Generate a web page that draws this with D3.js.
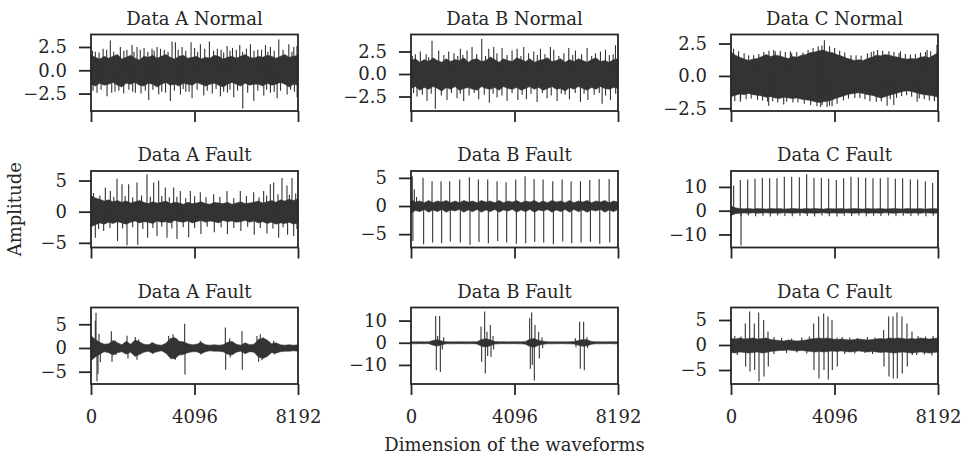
<!DOCTYPE html>
<html>
<head>
<meta charset="utf-8">
<script src="https://cdn.jsdelivr.net/npm/d3@7"></script>
<style>
  body { margin: 0; background: #fff; }
  text { font-family: "DejaVu Serif", serif; fill: #262626; }
</style>
</head>
<body>
<script>
// figure size
var width = 963;
var height = 457;
// panel layout
var colLeft = [91, 411, 731];
var rowTop = [34.5, 171, 307.5];
var panelW = 207;
var panelH = 76.5;
var nSamples = 8192;

// titles, y limits and y ticks per panel (row by row)
var titles = ["Data A Normal", "Data B Normal", "Data C Normal",
              "Data A Fault", "Data B Fault", "Data C Fault",
              "Data A Fault", "Data B Fault", "Data C Fault"];
var yDomains = [[-4.37, 3.84], [-4.11, 4.39], [-2.71, 3.2],
                [-5.75, 6.53], [-7.37, 6.22], [-15.5, 16.7],
                [-7.59, 8.53], [-18.6, 15.9], [-7.8, 7.5]];
var yTicks = [[-2.5, 0, 2.5], [-2.5, 0, 2.5], [-2.5, 0, 2.5],
              [-5, 0, 5], [-5, 0, 5], [-10, 0, 10],
              [-5, 0, 5], [-10, 0, 10], [-5, 0, 5]];
var xTicks = [0, 4096, 8192];

// envelope of each waveform (48 points over 8192 samples): upper and lower edge of the dense band
var aNormHi = [1.6,1.4,1.2,1.5,1.3,1.5,1.7,1.2,1.4,1.6,1.3,1.1,1.5,1.4,1.6,1.3,1.5,1.7,1.4,1.2,1.5,1.6,1.3,1.4,1.5,1.2,1.4,1.3,1.6,1.5,1.2,1.4,1.5,1.3,1.5,1.7,1.4,1.3,1.5,1.4,1.6,1.5,1.3,1.5,1.7,1.4,1.5,1.6];
var aNormLo = [-1.5,-1.7,-1.4,-1.6,-1.5,-1.3,-1.6,-1.8,-1.4,-1.5,-1.3,-1.6,-1.7,-1.4,-1.5,-1.8,-1.5,-1.3,-1.6,-1.5,-1.7,-1.4,-1.5,-1.6,-1.3,-1.5,-1.7,-1.5,-1.4,-1.6,-1.8,-1.5,-1.3,-1.5,-1.7,-1.4,-1.6,-1.5,-1.5,-1.7,-1.4,-1.6,-1.5,-1.3,-1.5,-1.8,-1.5,-1.6];
var bNormHi = [1.5,1.7,1.3,1.6,1.4,1.8,1.5,1.3,1.7,1.4,1.6,1.5,1.8,1.3,1.6,1.7,1.4,1.5,1.9,1.6,1.3,1.7,1.5,1.4,1.8,1.6,1.4,1.7,1.3,1.5,1.6,1.8,1.4,1.5,1.7,1.3,1.6,1.4,1.7,1.5,1.3,1.6,1.8,1.4,1.5,1.3,1.6,1.7];
var bNormLo = [-1.6,-1.4,-1.8,-1.5,-1.7,-1.4,-1.6,-1.9,-1.5,-1.7,-1.4,-1.8,-1.6,-1.5,-1.7,-1.8,-1.4,-1.6,-1.7,-1.5,-1.8,-1.4,-1.6,-1.7,-1.5,-1.8,-1.6,-1.4,-1.7,-1.5,-1.8,-1.6,-1.4,-1.7,-1.6,-1.9,-1.5,-1.7,-1.4,-1.6,-1.8,-1.5,-1.7,-1.4,-1.6,-1.7,-1.5,-1.6];
var cNormHi = [1.85,1.6,1.45,1.3,1.2,1.3,1.35,1.5,1.65,1.5,1.6,1.55,1.45,1.35,1.5,1.45,1.6,1.65,1.8,1.85,1.95,2.0,1.85,1.8,1.65,1.55,1.4,1.3,1.2,1.25,1.2,1.35,1.45,1.6,1.55,1.65,1.6,1.5,1.45,1.35,1.3,1.35,1.3,1.45,1.5,1.4,1.6,1.8];
var cNormLo = [-1.6,-1.5,-1.4,-1.45,-1.35,-1.45,-1.5,-1.55,-1.65,-1.6,-1.7,-1.75,-1.65,-1.7,-1.75,-1.7,-1.8,-1.85,-1.9,-2.0,-2.05,-2.0,-1.95,-1.85,-1.7,-1.6,-1.5,-1.4,-1.35,-1.3,-1.35,-1.45,-1.5,-1.6,-1.7,-1.6,-1.5,-1.4,-1.3,-1.2,-1.15,-1.2,-1.3,-1.4,-1.45,-1.5,-1.55,-1.65];
var aFault1Hi = [2.6,2.2,2.0,1.7,1.9,1.6,1.8,1.5,1.7,1.4,1.6,1.8,1.5,1.3,1.6,1.4,1.5,1.7,1.3,1.5,1.4,1.2,1.5,1.3,1.4,1.6,1.3,1.2,1.5,1.4,1.3,1.5,1.2,1.4,1.6,1.3,1.4,1.5,1.7,1.4,1.6,1.8,1.5,1.9,1.7,2.0,1.8,2.1];
var aFault1Lo = [-2.4,-2.1,-1.8,-2.0,-1.7,-1.9,-1.6,-1.8,-2.0,-1.7,-1.5,-1.8,-1.6,-1.7,-1.9,-1.5,-1.7,-1.6,-1.8,-1.4,-1.6,-1.7,-1.5,-1.8,-1.6,-1.4,-1.7,-1.5,-1.6,-1.8,-1.4,-1.6,-1.5,-1.7,-1.6,-1.4,-1.7,-1.5,-1.8,-1.6,-1.9,-1.7,-2.0,-1.8,-1.9,-1.7,-2.0,-1.8];
var bFault1Hi = [1.2,0.7,0.9,0.6,1.0,0.6,0.9,0.7,1.0,0.6,0.9,0.6,1.0,0.7,0.9,0.6,1.0,0.7,0.9,0.6,1.0,0.6,0.9,0.7,1.0,0.6,0.9,0.7,1.0,0.6,0.9,0.6,1.0,0.7,0.9,0.6,1.0,0.6,0.9,0.7,1.0,0.6,0.9,0.7,1.0,0.6,0.9,0.7];
var bFault1Lo = [-1.3,-0.8,-1.0,-0.6,-1.1,-0.7,-1.0,-0.6,-1.1,-0.7,-0.9,-0.6,-1.1,-0.7,-1.0,-0.6,-1.1,-0.7,-1.0,-0.6,-1.1,-0.7,-0.9,-0.6,-1.1,-0.7,-1.0,-0.6,-1.1,-0.7,-0.9,-0.6,-1.1,-0.7,-1.0,-0.6,-1.1,-0.6,-1.0,-0.7,-1.1,-0.7,-0.9,-0.6,-1.1,-0.7,-1.0,-0.6];
var cFault1Hi = [2.0,1.2,0.9,0.8,0.9,0.7,0.9,0.8,0.7,0.9,0.8,0.9,0.7,0.8,0.9,0.8,0.7,0.9,0.8,0.9,0.8,0.7,0.9,0.8,0.8,0.9,0.7,0.8,0.9,0.8,0.7,0.9,0.8,0.8,0.9,0.7,0.8,0.9,0.8,0.7,0.9,0.8,0.8,0.9,0.7,0.8,0.9,0.8];
var cFault1Lo = [-2.0,-1.3,-1.1,-1.0,-1.1,-0.9,-1.1,-1.0,-0.9,-1.1,-1.0,-1.1,-0.9,-1.0,-1.1,-1.0,-0.9,-1.1,-1.0,-1.1,-1.0,-0.9,-1.1,-1.0,-1.0,-1.1,-0.9,-1.0,-1.1,-1.0,-0.9,-1.1,-1.0,-1.0,-1.1,-0.9,-1.0,-1.1,-1.0,-0.9,-1.1,-1.0,-1.0,-1.1,-0.9,-1.0,-1.1,-1.0];
var aFault2Hi = [2.6,1.8,1.2,0.8,0.9,1.6,1.1,0.7,1.4,0.8,1.7,1.3,0.8,0.7,1.1,0.7,0.6,1.0,2.0,2.2,1.4,1.3,0.9,0.7,0.8,1.2,0.7,0.6,0.7,0.6,0.7,1.2,1.4,0.8,0.6,1.1,0.7,0.8,1.8,2.1,1.7,0.9,1.1,0.7,0.6,0.7,0.6,0.7];
var aFault2Lo = [-2.7,-1.9,-1.3,-0.8,-1.0,-1.5,-1.0,-0.8,-1.3,-0.9,-1.8,-1.4,-0.9,-0.7,-1.1,-0.8,-0.6,-1.1,-2.1,-2.3,-1.5,-1.4,-1.0,-0.8,-0.8,-1.2,-0.8,-0.6,-0.7,-0.7,-0.8,-1.3,-1.5,-0.9,-0.7,-1.2,-0.8,-0.9,-1.9,-2.2,-1.8,-1.0,-1.1,-0.8,-0.7,-0.7,-0.6,-0.7];
var bFault2Hi = [0.5,0.4,0.5,0.4,0.5,1.0,1.4,0.8,0.5,0.4,0.4,0.5,0.4,0.4,0.5,0.5,1.5,1.8,1.3,0.6,0.5,0.5,0.4,0.5,0.5,0.4,0.6,1.6,1.9,1.0,0.7,0.5,0.4,0.4,0.5,0.4,0.5,0.6,1.0,1.5,1.3,0.6,0.5,0.5,0.4,0.5,0.5,0.4];
var bFault2Lo = [-0.5,-0.5,-0.4,-0.5,-0.4,-1.1,-1.5,-0.9,-0.5,-0.5,-0.5,-0.4,-0.5,-0.5,-0.4,-0.6,-1.6,-1.9,-1.4,-0.6,-0.5,-0.4,-0.5,-0.4,-0.5,-0.5,-0.7,-1.7,-2.0,-1.1,-0.7,-0.5,-0.5,-0.5,-0.4,-0.5,-0.5,-0.6,-1.1,-1.6,-1.4,-0.7,-0.5,-0.5,-0.5,-0.4,-0.5,-0.5];
var cFault2Hi = [1.3,1.2,1.4,1.2,1.3,1.4,1.2,1.3,1.4,1.1,1.0,0.9,0.8,1.0,0.9,0.8,0.9,1.0,1.2,1.3,1.4,1.3,1.4,1.2,1.1,1.2,1.1,1.0,1.1,1.2,1.1,1.0,1.1,1.2,1.3,1.2,1.4,1.3,1.4,1.3,1.2,1.3,1.2,1.4,1.3,1.2,1.3,1.4];
var cFault2Lo = [-1.5,-1.6,-1.4,-1.5,-1.6,-1.5,-1.4,-1.6,-1.5,-1.3,-1.2,-1.1,-1.1,-1.0,-1.1,-1.2,-1.1,-1.2,-1.3,-1.4,-1.3,-1.4,-1.3,-1.2,-1.3,-1.2,-1.3,-1.4,-1.3,-1.2,-1.3,-1.4,-1.3,-1.4,-1.5,-1.4,-1.5,-1.6,-1.5,-1.4,-1.5,-1.6,-1.5,-1.4,-1.5,-1.6,-1.5,-1.4];

// spikes sticking out of the band: [sample, amplitude]
var aNormSpikes = [[172,2.0],[480,2.3],[766,3.2],[1162,2.5],[1420,2.2],[1624,2.7],[1822,2.5],[2100,2.4],[2416,2.3],[2614,2.5],[2900,2.2],[3208,3.1],[3340,3.0],[3604,2.5],[3960,3.0],[4100,2.4],[4330,2.8],[4686,3.1],[5000,2.3],[5386,2.6],[5600,2.4],[5887,2.7],[6310,2.8],[6600,2.2],[6904,2.7],[7100,2.5],[7432,3.3],[7828,2.8],[8026,2.5],[8150,2.6],
  [60,2.1],[320,1.9],[620,2.2],[900,2.0],[1300,2.1],[1700,2.0],[1950,2.2],[2250,2.0],[2500,2.1],[2750,2.3],[3050,2.0],[3450,2.2],[3750,2.1],[4220,2.0],[4500,2.3],[4850,2.1],[5150,2.2],[5250,1.9],[5500,2.1],[5750,2.2],[6000,2.0],[6150,2.3],[6450,2.1],[6750,2.2],[7000,2.0],[7250,2.1],[7600,2.2],[7950,2.0],
  [238,-2.4],[634,-2.8],[950,-2.3],[1294,-2.5],[1756,-2.4],[1980,-2.5],[2284,-3.2],[2680,-2.6],[2950,-2.4],[3142,-3.3],[3538,-2.6],[3750,-2.3],[4000,-3.0],[4462,-2.7],[4800,-2.5],[5122,-2.8],[5400,-2.4],[5650,-2.9],[6006,-4.1],[6442,-3.3],[6838,-2.7],[7100,-2.4],[7366,-3.0],[7762,-2.6],[8158,-2.9],
  [80,-2.2],[400,-2.1],[820,-2.4],[1100,-2.2],[1500,-2.1],[1650,-2.3],[2150,-2.2],[2450,-2.1],[2800,-2.3],[3300,-2.2],[3650,-2.0],[3880,-2.3],[4200,-2.1],[4600,-2.2],[4950,-2.0],[5250,-2.3],[5500,-2.1],[5800,-2.2],[6200,-2.4],[6600,-2.2],[6950,-2.1],[7250,-2.3],[7500,-2.2],[7900,-2.1],[8050,-2.3]];
var bNormSpikes = [[172,2.2],[370,2.5],[832,3.7],[1096,2.6],[1492,2.5],[1954,2.8],[2218,2.6],[2416,3.0],[2800,3.9],[3076,2.8],[3274,3.0],[3604,2.9],[4000,2.6],[4198,2.8],[4462,3.0],[4858,2.5],[5122,2.8],[5518,3.0],[5650,2.7],[6244,2.9],[6508,2.6],[6970,2.9],[7498,2.5],[7696,2.7],[8092,3.2],
  [50,2.0],[600,2.2],[700,1.9],[1300,2.1],[1700,2.3],[1850,2.0],[2050,2.1],[2600,2.2],[2950,2.0],[3400,2.3],[3800,2.1],[4350,2.0],[4650,2.3],[5000,2.1],[5300,2.2],[5850,2.0],[6050,2.3],[6400,2.1],[6750,2.2],[7150,2.0],[7300,2.3],[7850,2.1],[8000,2.2],
  [238,-2.5],[634,-3.0],[964,-3.85],[1426,-2.9],[1822,-2.7],[2086,-3.0],[2680,-2.8],[3100,-3.2],[3406,-2.6],[3802,-3.0],[4230,-2.9],[4567,-2.8],[4990,-3.1],[5386,-2.7],[5782,-3.0],[6270,-2.8],[6706,-3.1],[7000,-2.9],[7564,-3.3],[7894,-2.9],
  [100,-2.1],[450,-2.3],[800,-2.2],[1200,-2.4],[1600,-2.1],[1950,-2.2],[2300,-2.4],[2500,-2.1],[2900,-2.3],[3250,-2.2],[3600,-2.4],[4000,-2.1],[4400,-2.3],[4750,-2.2],[5200,-2.1],[5550,-2.4],[5950,-2.2],[6100,-2.3],[6500,-2.1],[6850,-2.2],[7250,-2.3],[7450,-2.1],[7700,-2.4],[8100,-2.2]];
var cNormSpikes = [[1690,2.0],[2350,1.9],[3696,2.75],[5650,1.9],[6706,1.9],[7762,2.0],[8150,2.4],
  [100,2.1],[300,1.9],[520,1.75],[700,1.6],[900,1.6],[1100,1.7],[1300,1.85],[1500,1.95],[1750,1.9],[1950,1.95],[2150,1.85],[2400,1.75],[2600,1.85],[2850,1.8],[3050,2.0],[3250,2.15],[3450,2.3],[3600,2.35],[3900,2.3],[4100,2.15],[4300,1.95],[4500,1.8],[4750,1.6],[4950,1.6],[5150,1.55],[5400,1.75],[5550,1.85],[5800,2.0],[6000,1.95],[6250,1.9],[6450,1.85],[6650,1.75],[6900,1.7],[7100,1.65],[7300,1.7],[7500,1.8],[7700,1.85],[7900,1.9],
  [370,-2.0],[1492,-2.3],[2086,-2.2],[3604,-2.25],[3802,-2.4],[4000,-2.35],[6178,-2.3],[6442,-2.25],[7366,-2.0],
  [150,-1.95],[380,-1.8],[600,-1.8],[800,-1.75],[1050,-1.85],[1250,-1.9],[1450,-2.0],[1650,-1.95],[1850,-2.05],[2200,-2.0],[2450,-2.05],[2650,-2.05],[2900,-2.15],[3150,-2.25],[3400,-2.35],[3550,-2.4],[3900,-2.3],[4200,-2.15],[4450,-1.9],[4650,-1.75],[4900,-1.7],[5100,-1.7],[5300,-1.8],[5500,-1.95],[5750,-2.0],[5950,-1.95],[6300,-1.8],[6550,-1.7],[6750,-1.55],[6950,-1.5],[7150,-1.6],[7450,-1.75],[7650,-1.8],[7850,-1.9],[8050,-1.95]];
var aFault1Spikes = [[567,3.9],[765,3.3],[1029,5.3],[1227,4.4],[1490,4.4],[1820,4.7],[2216,6.0],[2480,4.7],[2678,5.0],[2941,3.9],[3271,3.9],[3535,3.3],[3931,3.3],[4326,3.1],[4854,2.8],[5382,3.3],[5909,3.3],[6437,3.1],[6833,3.3],[7096,4.4],[7228,4.7],[7558,5.4],[7756,4.2],[7954,5.4],
  [100,3.0],[350,2.6],[900,2.4],[1350,2.5],[1650,2.3],[2000,2.6],[2350,2.4],[2800,2.5],[3100,2.3],[3400,2.4],[3750,2.2],[4100,2.5],[4550,2.3],[5100,2.4],[5650,2.2],[6150,2.5],[6650,2.3],[6950,2.6],[7400,2.8],[7850,2.7],[8100,2.9],
  [171,-4.2],[501,-3.1],[1050,-4.7],[1425,-5.4],[1850,-5.3],[2240,-4.2],[2612,-3.9],[3007,-4.2],[3403,-4.4],[3865,-4.1],[4350,-3.6],[4880,-3.3],[5400,-3.6],[5930,-3.1],[6460,-3.7],[6964,-3.5],[7426,-4.2],[7780,-3.7],[8020,-3.9],
  [300,-2.8],[750,-2.6],[1250,-2.7],[1650,-2.5],[2050,-2.8],[2450,-2.6],[2800,-2.4],[3200,-2.7],[3650,-2.5],[4100,-2.6],[4600,-2.4],[5150,-2.5],[5650,-2.6],[6200,-2.4],[6700,-2.6],[7200,-2.7],[7600,-2.5],[8150,-2.8]];
// periodic impulses of Data B Fault (row 2)
var bFault1Pos = [50,475,832,1188,1531,1927,2310,2666,3036,3406,3762,4145,4514,4871,5227,5610,5980,6336,6706,7075,7445,7841];
var bFault1Up = [5.3,5.0,4.4,4.4,4.4,4.7,5.1,4.7,4.7,4.4,4.2,4.7,5.3,4.8,4.7,4.4,4.7,4.4,4.4,4.6,4.8,4.8];
var bFault1Down = [-6.2,-6.8,-6.5,-6.6,-6.3,-6.5,-6.9,-6.4,-6.6,-6.2,-6.5,-6.7,-6.6,-6.4,-6.5,-6.8,-6.3,-6.6,-6.5,-6.4,-6.7,-6.5];
var bFault1Extra = [[130,3.0],[220,1.6]];
// periodic impulses of Data C Fault (row 2)
var cFault1Pos = [369,660,950,1240,1530,1820,2110,2401,2704,2994,3284,3574,3865,4168,4458,4748,5039,5329,5619,5909,6212,6503,6793,7096,7386,7690,7980];
var cFault1Up = [12.9,13.1,13.4,13.9,13.7,13.7,14.3,14.3,14.1,15.3,13.9,13.9,13.4,12.9,13.7,14.3,14.1,13.9,13.7,13.7,14.0,13.4,13.7,13.1,13.1,12.4,11.7];
var cFault1Down = [-2.2,-2.0,-2.3,-2.1,-2.4,-2.0,-2.2,-2.3,-2.1,-2.2,-2.4,-2.0,-2.3,-2.5,-2.1,-2.2,-2.0,-2.3,-2.1,-2.2,-2.0,-2.3,-2.1,-2.2,-2.0,-2.3,-2.1];
var cFault1Extra = [[105,10.5],[396,-14.7]];
var aFault2Spikes = [[171,5.8],[198,7.4],[237,-7.0],[277,-5.5],[316,3.0],[369,-3.0],[805,3.5],[831,-2.9],[963,1.6],[990,-1.5],[1425,2.6],[1464,-2.2],[1754,2.3],[1820,-2.5],[1886,1.8],[2414,1.2],[2440,-1.2],
  [3073,2.5],[3166,-2.4],[3245,2.9],[3337,-2.5],[3403,2.0],[3706,5.1],[3720,-5.6],[4326,1.5],[4350,-1.4],[5316,4.3],[5329,-4.6],[5487,2.0],[5510,-2.0],[5975,3.6],[5988,-4.6],
  [6568,2.5],[6634,-2.9],[6700,2.9],[6766,-2.6],[6832,2.2],[7228,1.5],[7254,-1.4]];
var bFault2Spikes = [[976,12.1],[1002,-12.4],[1055,3.0],[1134,12.1],[1161,-13.2],[1240,-3.0],[1293,2.5],
  [2770,7.3],[2796,-8.6],[2915,14.1],[2941,-13.9],[3007,5.0],[3034,-6.0],[3139,8.0],[3166,-6.4],[3245,3.0],[3270,-3.0],
  [4696,11.1],[4722,-11.7],[4775,13.6],[4801,-10.0],[4880,-17.0],[4907,8.0],[5052,5.0],[5078,-7.1],[5184,2.5],[5210,-2.5],
  [6503,2.0],[6529,-2.0],[6674,9.5],[6700,-11.7],[6832,9.5],[6859,-12.4],[6964,2.5],[6990,-2.5]];
var cFault2Spikes = [[567,4.3],[580,-4.3],[739,6.7],[752,-5.3],[923,4.3],[936,-5.0],[1095,6.5],[1108,-7.3],[1293,5.0],[1306,-6.3],[1464,2.7],[1477,-4.3],
  [3271,4.3],[3284,-5.0],[3469,5.7],[3482,-6.7],[3667,6.3],[3680,-5.0],[3838,5.7],[3851,-6.9],[3997,5.0],[4010,-5.0],[4194,1.5],[4207,-4.3],
  [6041,3.0],[6054,-4.3],[6239,5.7],[6252,-6.3],[6410,5.7],[6423,-6.7],[6569,6.5],[6582,-6.7],[6766,5.7],[6779,-5.7],[6964,4.3],[6977,-4.3],[7162,2.7],[7175,-2.0],
  [150,1.8],[400,1.7],[1700,1.6],[2000,1.4],[2400,1.3],[2800,1.5],[3100,1.7],[4400,1.6],[4700,1.5],[5000,1.4],[5400,1.6],[5700,1.5],[7400,1.8],[7700,1.7],[8000,1.8],
  [250,-2.0],[1700,-1.8],[2200,-1.6],[2600,-1.5],[3000,-1.7],[4500,-1.8],[4900,-1.7],[5300,-1.6],[5600,-1.8],[7350,-2.0],[7650,-1.9],[7950,-2.1]];

// build impulse tables into spike lists
function impulses(pos, up, down, extra) {
  var out = extra.slice();
  pos.forEach(function(p, i) {
    out.push([p, up[i]]);
    out.push([p + 25, down[i]]);
  });
  return out;
}

var panels = [
  {hi: aNormHi, lo: aNormLo, spikes: aNormSpikes},
  {hi: bNormHi, lo: bNormLo, spikes: bNormSpikes},
  {hi: cNormHi, lo: cNormLo, spikes: cNormSpikes},
  {hi: aFault1Hi, lo: aFault1Lo, spikes: aFault1Spikes},
  {hi: bFault1Hi, lo: bFault1Lo, spikes: impulses(bFault1Pos, bFault1Up, bFault1Down, bFault1Extra)},
  {hi: cFault1Hi, lo: cFault1Lo, spikes: impulses(cFault1Pos, cFault1Up, cFault1Down, cFault1Extra)},
  {hi: aFault2Hi, lo: aFault2Lo, spikes: aFault2Spikes},
  {hi: bFault2Hi, lo: bFault2Lo, spikes: bFault2Spikes},
  {hi: cFault2Hi, lo: cFault2Lo, spikes: cFault2Spikes}
];

var svg = d3.select("body")
            .append("svg")
            .attr("width", width)
            .attr("height", height);

var waveColor = "#333333";
var axisColor = "#262626";
var fontSize = 18;

panels.forEach(function(p, k) {
  var row = Math.floor(k / 3);
  var col = k % 3;
  var x0 = colLeft[col];
  var y0 = rowTop[row];

  var x = d3.scaleLinear().domain([0, nSamples]).range([x0, x0 + panelW]);
  var y = d3.scaleLinear().domain(yDomains[k]).range([y0 + panelH, y0]);

  var g = svg.append("g").attr("class", "panel");

  // dense band
  var n = p.hi.length;
  var band = d3.area()
               .x(function(d, i) { return x(i * nSamples / (n - 1)); })
               .y0(function(d, i) { return y(p.lo[i]); })
               .y1(function(d) { return y(d); });
  g.append("path")
   .datum(p.hi)
   .attr("d", band)
   .attr("fill", waveColor)
   .attr("stroke", waveColor)
   .attr("stroke-width", 0.5);

  // spikes
  g.selectAll("line.spike")
   .data(p.spikes)
   .enter().append("line")
   .attr("class", "spike")
   .attr("x1", function(d) { return x(d[0]); })
   .attr("x2", function(d) { return x(d[0]); })
   .attr("y1", y(0))
   .attr("y2", function(d) { return y(d[1]); })
   .attr("stroke", waveColor)
   .attr("stroke-width", 1.1);

  // y axis
  var fmt = row === 0 ? d3.format(".1f") : d3.format("d");
  var yAxis = g.append("g")
               .attr("transform", "translate(" + x0 + ",0)")
               .call(d3.axisLeft(y).tickValues(yTicks[k]).tickSize(12).tickPadding(12).tickFormat(fmt));
  // x axis
  var xAxis = g.append("g")
               .attr("transform", "translate(0," + (y0 + panelH) + ")")
               .call(d3.axisBottom(x).tickValues(xTicks).tickSize(11).tickPadding(15)
                       .tickFormat(row === 2 ? d3.format("d") : function() { return ""; }));
  [yAxis, xAxis].forEach(function(a) {
    a.select(".domain").remove();
    a.selectAll("line").attr("stroke", axisColor).attr("stroke-width", 1.8);
    a.selectAll("text").attr("font-size", fontSize).attr("fill", axisColor)
     .style("font-family", "'DejaVu Serif', serif");
  });

  // frame
  g.append("rect")
   .attr("x", x0)
   .attr("y", y0)
   .attr("width", panelW)
   .attr("height", panelH)
   .attr("fill", "none")
   .attr("stroke", axisColor)
   .attr("stroke-width", 1.8);

  // title
  g.append("text")
   .attr("x", x0 + panelW / 2)
   .attr("y", y0 - 10)
   .attr("text-anchor", "middle")
   .attr("font-size", fontSize)
   .text(titles[k]);
});

// shared axis labels
svg.append("text")
   .attr("transform", "translate(21," + (rowTop[1] + panelH / 2) + ") rotate(-90)")
   .attr("text-anchor", "middle")
   .attr("font-size", fontSize)
   .text("Amplitude");

svg.append("text")
   .attr("x", colLeft[1] + panelW / 2)
   .attr("y", 451)
   .attr("text-anchor", "middle")
   .attr("font-size", fontSize)
   .text("Dimension of the waveforms");
</script>
</body>
</html>
